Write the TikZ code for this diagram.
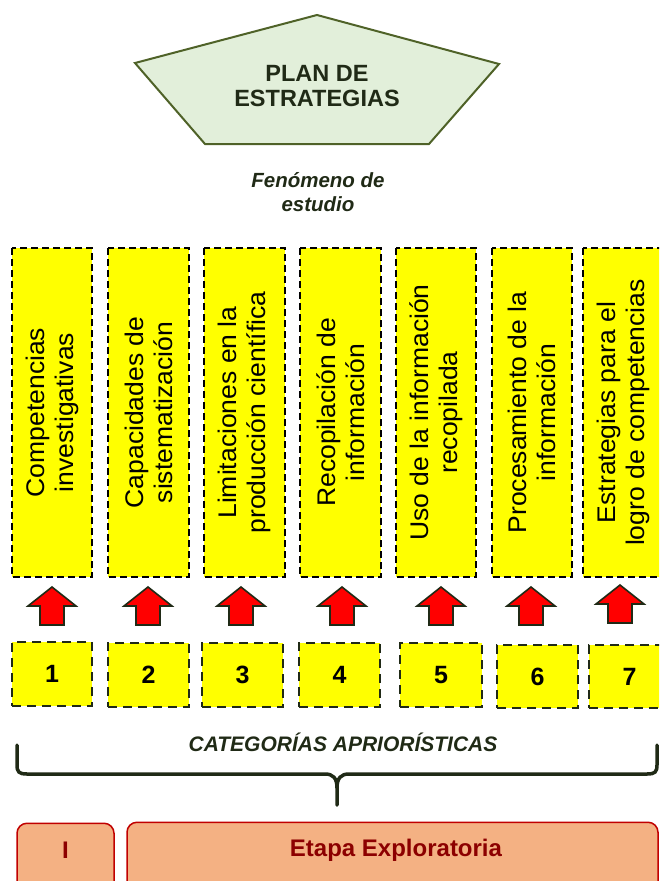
\documentclass[tikz,border=0pt]{standalone}
\usepackage{fontspec}
\setmainfont{Liberation Sans}
\newfontfamily\widesans[FakeStretch=1.04]{Liberation Sans}

\definecolor{plangreen}{RGB}{226,239,218}
\definecolor{planline}{RGB}{79,98,40}
\definecolor{darkline}{RGB}{32,42,22}
\definecolor{catyellow}{RGB}{255,255,0}
\definecolor{arrowred}{RGB}{255,0,0}
\definecolor{stagefill}{RGB}{244,177,131}
\definecolor{stageline}{RGB}{192,0,0}
\definecolor{stagetxt}{RGB}{140,0,0}

\tikzset{
  catbox/.style={draw=black, fill=catyellow, line width=1.4pt, dash pattern=on 7pt off 4pt,
    rotate=90, minimum width=329pt, minimum height=80pt, inner sep=0pt, align=center,
    font=\widesans\fontsize{25.5}{29}\selectfont},
  numbox/.style={draw=darkline, fill=catyellow, line width=2.2pt, dash pattern=on 9pt off 6pt,
    minimum height=64pt, inner sep=0pt, font=\bfseries\fontsize{25}{28}\selectfont},
  stagebox/.style={draw=stageline, fill=stagefill, line width=1.5pt, rounded corners=10pt,
    anchor=north, minimum height=80pt},
  stagetext/.style={text=stagetxt, font=\bfseries\fontsize{24}{28}\selectfont},
  uparrow/.pic={\draw[darkline, fill=arrowred, line width=1.6pt, line join=miter]
    (0,-19) -- (24,0) -- (12,0) -- (12,19) -- (-12,19) -- (-12,0) -- (-24,0) -- cycle;}
}

\begin{document}
\begin{tikzpicture}[x=1pt, y=-1pt]
        \useasboundingbox (0,0) rectangle (659,881);
        \clip (0,0) rectangle (659,881);

        % plan
        \draw[fill=plangreen, draw=planline, line width=2pt] (317,15) -- (499,64) -- (429,144) -- (205,144) -- (135,63) -- cycle;
        \node[text=darkline, align=center, font=\bfseries\fontsize{23.5}{25}\selectfont] (plan) at (317,86) {PLAN DE\\ESTRATEGIAS};

        \node[text=darkline, align=center, font=\bfseries\itshape\fontsize{20.5}{24}\selectfont] (fenomeno) at (318,192) {Fenómeno de\\estudio};

        % categorias
        \node[catbox] (c1) at (52,412.5) {Competencias\\investigativas};
        \node[catbox, minimum height=81pt] (c2) at (148.5,412.5) {Capacidades de\\sistematización};
        \node[catbox, minimum height=81pt] (c3) at (244.5,412.5) {Limitaciones en la\\producción científica};
        \node[catbox, minimum height=81pt] (c4) at (340.5,412.5) {Recopilación de\\información};
        \node[catbox] (c5) at (436,412.5) {Uso de la información\\recopilada};
        \node[catbox] (c6) at (532,412.5) {Procesamiento de la\\información};
        \node[catbox] (c7) at (623,412.5) {Estrategias para el\\logro de competencias};

        \pic (a1) at (52,606) {uparrow};
        \pic (a2) at (148,606) {uparrow};
        \pic (a3) at (241,606) {uparrow};
        \pic (a4) at (342,606) {uparrow};
        \pic (a5) at (441,606) {uparrow};
        \pic (a6) at (531,606) {uparrow};
        \pic (a7) at (620,604) {uparrow};

        \node[numbox, minimum width=80pt] (n1) at (52,674) {1};
        \node[numbox, minimum width=81pt] (n2) at (148.5,675) {2};
        \node[numbox, minimum width=81pt] (n3) at (242.5,675) {3};
        \node[numbox, minimum width=81pt] (n4) at (339.5,675) {4};
        \node[numbox, minimum width=82pt] (n5) at (441,675) {5};
        \node[numbox, minimum width=81pt, minimum height=63pt] (n6) at (537.5,676.5) {6};
        \node[numbox, minimum width=81pt, minimum height=63pt] (n7) at (629.5,676.5) {7};

        \node[text=darkline, font=\bfseries\itshape\fontsize{21}{24}\selectfont] (categorias) at (343,742) {CATEGORÍAS APRIORÍSTICAS};

        % llave
        \draw[darkline, line width=3.5pt, line cap=round]
          (17,745) -- (17,765) .. controls (17,772) and (19,774) .. (27,774) -- (325,774)
          .. controls (333,774) and (337,778) .. (337,788) -- (337,805);
        \draw[darkline, line width=3.5pt, line cap=round]
          (337,788) .. controls (337,778) and (341,774) .. (349,774) -- (647,774)
          .. controls (655,774) and (657,772) .. (657,765) -- (657,745);

        % etapa
        \node[stagebox, minimum width=97pt] (s1) at (65.5,822.5) {};
        \node[stagetext] (s1t) at (65.5,850) {I};
        \node[stagebox, minimum width=531pt] (s2) at (392.5,821.5) {};
        \node[stagetext] (s2t) at (396,850) {Etapa Exploratoria};
\end{tikzpicture}
\end{document}
